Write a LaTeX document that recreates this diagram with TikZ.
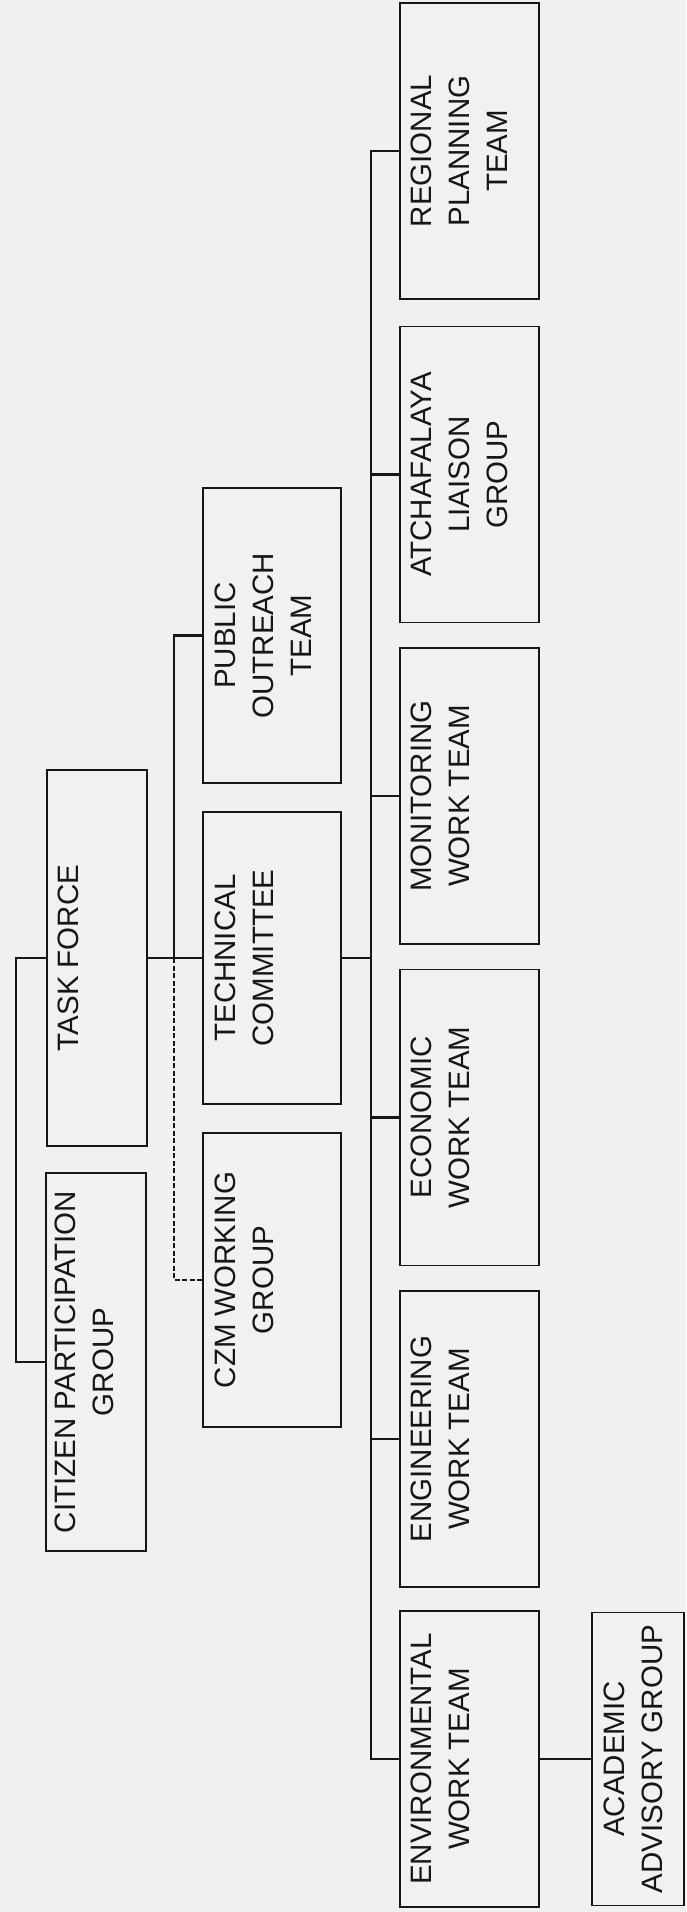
\documentclass[tikz,border=0pt]{standalone}
\usepackage{fontspec}
\setmainfont{Liberation Sans}
\definecolor{bgc}{RGB}{239,240,239}
\definecolor{boxc}{RGB}{241,241,241}
\definecolor{inkc}{RGB}{22,22,22}
\begin{document}
\begin{tikzpicture}[x=1pt,y=-1pt,
  box/.style={draw=inkc, fill=boxc, line width=1.8pt, rectangle, inner sep=0pt},
  c1box/.style={box, minimum width=100pt},
  c2box/.style={box, minimum width=138pt},
  c3box/.style={box, minimum width=139pt, minimum height=296pt},
  lbl/.style={rotate=90, anchor=north, inner sep=0pt, align=center, text=inkc,
    font=\fontsize{29.5}{38}\selectfont},
  conn/.style={draw=inkc, line width=2.6pt},
  dconn/.style={draw=inkc, line width=2.6pt, dash pattern=on 5pt off 2.5pt}]
\useasboundingbox[fill=bgc] (0,0) rectangle (686,1912);

% column 1
\node[c1box, minimum height=376pt] (tf) at (97,958) {};
\node[c1box, minimum height=378pt] (cpg) at (96,1362) {};
% column 2
\node[c2box, minimum height=295pt] (po) at (272,635.5) {};
\node[c2box, minimum height=292pt] (tc) at (272,958) {};
\node[c2box, minimum height=294pt] (czm) at (272,1280) {};
% column 3
\node[c3box] (reg) at (469.5,151) {};
\node[c3box] (atc) at (469.5,474.5) {};
\node[c3box] (mon) at (469.5,796) {};
\node[c3box] (eco) at (469.5,1117.5) {};
\node[c3box] (eng) at (469.5,1439) {};
\node[c3box] (env) at (469.5,1759) {};
% academic
\node[box, minimum width=92pt, minimum height=293pt] (aag) at (638,1759) {};

% labels
\node[lbl] (tftx) at ([xshift=12pt]tf.west) {TASK FORCE};
\node[lbl] (cpgtx) at ([xshift=10pt]cpg.west) {CITIZEN PARTICIPATION\\GROUP};
\node[lbl] (potx) at ([xshift=13pt]po.west) {PUBLIC\\OUTREACH\\TEAM};
\node[lbl] (tctx) at ([xshift=13pt]tc.west) {TECHNICAL\\COMMITTEE};
\node[lbl] (czmtx) at ([xshift=13pt]czm.west) {CZM WORKING\\GROUP};
\node[lbl] (regtx) at ([xshift=12pt]reg.west) {REGIONAL\\PLANNING\\TEAM};
\node[lbl] (atctx) at ([xshift=12pt]atc.west) {ATCHAFALAYA\\LIAISON\\GROUP};
\node[lbl] (montx) at ([xshift=12pt]mon.west) {MONITORING\\WORK TEAM};
\node[lbl] (ecotx) at ([xshift=12pt]eco.west) {ECONOMIC\\WORK TEAM};
\node[lbl] (engtx) at ([xshift=12pt]eng.west) {ENGINEERING\\WORK TEAM};
\node[lbl] (envtx) at ([xshift=12pt]env.west) {ENVIRONMENTAL\\WORK TEAM};
\node[lbl] (aagtx) at ([xshift=13pt]aag.west) {ACADEMIC\\ADVISORY GROUP};

% connectors
\coordinate (j1) at (174,958);
\coordinate (sp) at (371,958);
\draw[conn] (tf.west) -- ++(-30,0) |- (cpg.west);
\draw[conn] (tf.east) -- (tc.west);
\draw[conn] (po.west) -| (j1);
\draw[dconn] (j1) |- (czm.west);
\draw[conn] (tc.east) -- (sp);
\draw[conn] (reg.west) -- (reg.west -| sp) -- (env.west -| sp) -- (env.west);
\draw[conn] (atc.west) -- (atc.west -| sp);
\draw[conn] (mon.west) -- (mon.west -| sp);
\draw[conn] (eco.west) -- (eco.west -| sp);
\draw[conn] (eng.west) -- (eng.west -| sp);
\draw[conn] (env.east) -- (aag.west);
\end{tikzpicture}
\end{document}
